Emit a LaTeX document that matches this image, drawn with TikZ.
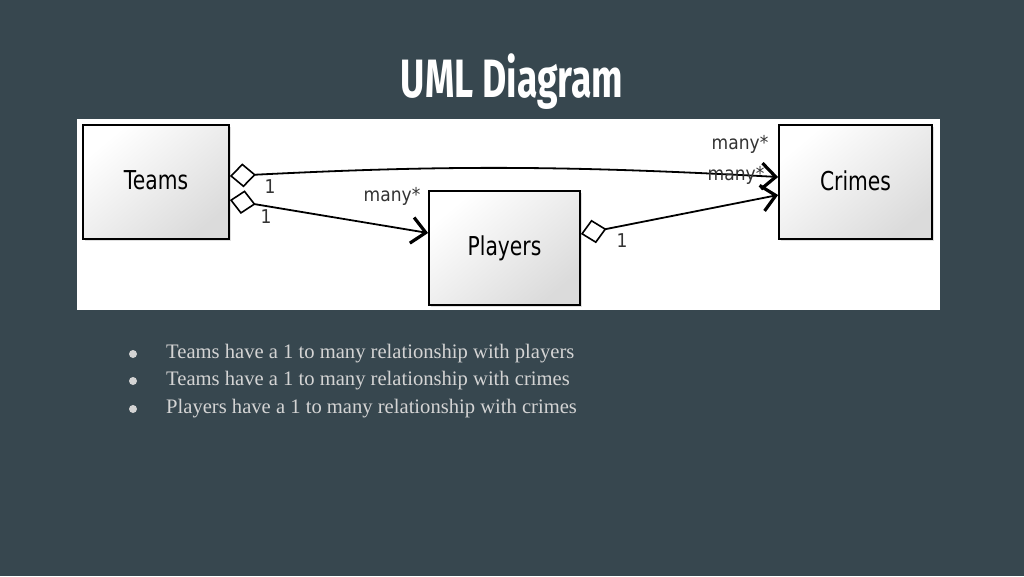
\documentclass[tikz,border=0pt]{standalone}
\usepackage{fontspec}
\usepackage{tikz}
\usetikzlibrary{arrows.meta,shadows}

\setmainfont{Liberation Serif}
\newfontfamily\umlfont[FakeStretch=0.78]{DejaVu Sans}
\newfontfamily\multfont[FakeStretch=0.9]{DejaVu Sans}
\newfontfamily\titlefont[FakeStretch=0.69]{Fira Sans}

\definecolor{slide}{RGB}{55,71,79}
\definecolor{bodytext}{RGB}{212,212,212}

\tikzset{
    entity/.style={draw=black, line width=1.8pt, shading=axis, top color=white,
        bottom color=gray!28, shading angle=40,
        drop shadow={shadow xshift=2pt, shadow yshift=-2pt, opacity=0.25},
        font=\umlfont\fontsize{26}{30}\selectfont, inner sep=0pt},
    assoc/.style={line width=1.8pt,
        {Diamond[open, length=26pt, width=24pt, line width=1.6pt]}-{Straight Barb[length=14pt, width=26pt, line width=3.2pt]}},
    mult/.style={font=\multfont\fontsize{19}{23}\selectfont, text=black!80, inner sep=0pt},
    bullet/.style={circle, fill=bodytext, inner sep=0pt, minimum size=8pt},
    point/.style={anchor=west, text=bodytext, font=\fontsize{20.6}{24}\selectfont, inner sep=0pt}
}

\begin{document}
\begin{tikzpicture}[x=1pt, y=-1pt]
    % slide and white panel
    \fill[slide] (0,0) rectangle (1024,576);
    \useasboundingbox (0,0) rectangle (1024,576);
    \fill[white] (77,119) rectangle (940,310);

    \node[text=white, font=\titlefont\bfseries\fontsize{54}{60}\selectfont] (title) at (512,82) {UML Diagram};

    % classes
    \node[entity, minimum width=146pt, minimum height=114pt] (teams) at (156,182) {\raisebox{3pt}{Teams}};
    \node[entity, minimum width=151pt, minimum height=114pt] (players) at (504.5,248) {\raisebox{3pt}{Players}};
    \node[entity, minimum width=153pt, minimum height=114pt] (crimes) at (855.5,182) {\raisebox{3pt}{Crimes}};

    % associations
    \draw[assoc] ([yshift=6pt]teams.east) to[bend left=3] ([yshift=5pt]crimes.west);
    \draw[assoc] ([yshift=-18pt]teams.east) -- ([yshift=15pt]players.west);
    \draw[assoc] ([yshift=14pt]players.east) -- ([yshift=-13pt]crimes.west);

    % multiplicities
    \node[mult] (m1) at (270,187) {1};
    \node[mult] (m2) at (266,217) {1};
    \node[mult] (m3) at (392,196) {many*};
    \node[mult] (m4) at (622,241) {1};
    \node[mult] (m5) at (740,144) {many*};
    \node[mult] (m6) at (736,175) {many*};

    % bullet points
    \foreach \y/\txt [count=\i] in {354/Teams have a 1 to many relationship with players,
        381/Teams have a 1 to many relationship with crimes,
        409/Players have a 1 to many relationship with crimes} {
        \node[bullet] (b\i) at (133,\y) {};
        \node[point] (p\i) at (166,\y) {\txt};
    }
\end{tikzpicture}
\end{document}
